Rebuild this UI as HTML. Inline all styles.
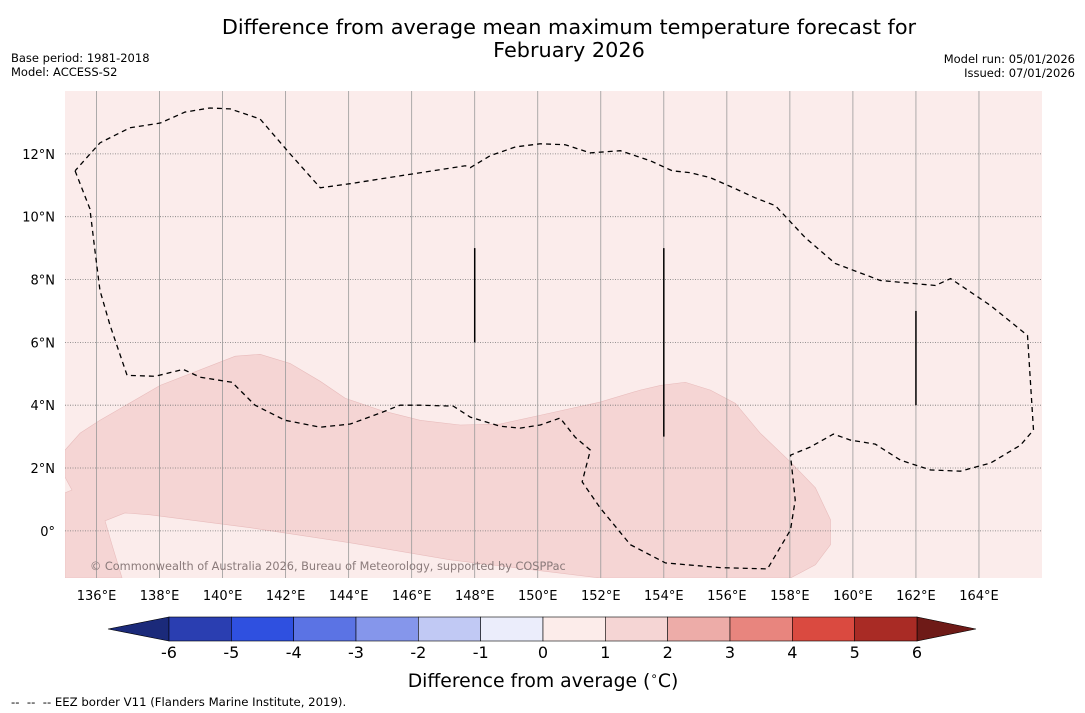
<!DOCTYPE html>
<html><head><meta charset="utf-8"><style>
body{margin:0;background:#fff;font-family:"Liberation Sans","DejaVu Sans",sans-serif;}
svg{display:block}
</style></head><body>
<svg width="1085" height="713" xmlns="http://www.w3.org/2000/svg" font-family="DejaVu Sans, Liberation Sans, sans-serif">
<text x="569" y="34" text-anchor="middle" font-size="20.8">Difference from average mean maximum temperature forecast for</text>
<text x="569" y="57" text-anchor="middle" font-size="20.8">February 2026</text>
<text x="11" y="62" font-size="11.5">Base period: 1981-2018</text>
<text x="11" y="76" font-size="11.5">Model: ACCESS-S2</text>
<text x="1075" y="63" font-size="11.5" text-anchor="end">Model run: 05/01/2026</text>
<text x="1075" y="77" font-size="11.5" text-anchor="end">Issued: 07/01/2026</text>
<g id="map"></g>
<g id="cbar"></g>
<text x="543" y="687" font-size="18.8" text-anchor="middle">Difference from average (<tspan font-size="12" dy="-7">∘</tspan><tspan dy="7">C)</tspan></text>
<text x="11" y="706" font-size="11.7" style="white-space:pre">--  --  -- EEZ border V11 (Flanders Marine Institute, 2019).</text>
</svg>
<script>
const lonTicks=[136,138,140,142,144,146,148,150,152,154,156,158,160,162,164];
const latTicks=[0,2,4,6,8,10,12];
const cbLevels=[-6,-5,-4,-3,-2,-1,0,1,2,3,4,5,6];
const cbColors=["#2a3eb1","#2f50e0","#5b73e4","#8596eb","#c1c9f4","#ebedfb","#fcecea","#f5d5d4","#edaca8","#e8857e","#da4a40","#a92b25"];
const shadedLon=[135,135.48,136.11,138.02,140.40,141.19,142.14,143.10,143.89,145.0,146.27,147.54,148.81,150.08,151.98,153.25,153.89,154.68,155.48,156.27,157.06,158.02,158.81,159.29,159.29,158.81,158.02,151.98,147.22,144.05,140.87,137.70,136.90,136.27,136.49,136.81,135,135,135.22,135];
const shadedLat=[2.57,3.11,3.52,4.63,5.56,5.62,5.33,4.76,4.22,3.84,3.52,3.37,3.40,3.68,4.10,4.48,4.63,4.73,4.48,4.06,3.11,2.19,1.37,0.35,-0.44,-1.08,-1.5,-1.5,-0.92,-0.38,0.10,0.51,0.57,0.32,-0.44,-1.5,-1.5,1.21,1.30,1.71];
const eezLon=[135.32,135.79,135.95,136.11,136.43,136.97,137.86,138.75,139.29,140.30,141.03,141.98,143.10,144.05,145.0,145.63,146.27,147.32,147.86,148.81,149.44,150.08,150.71,151.19,151.67,151.41,151.98,152.94,154.05,155.79,157.29,158.02,158.17,158.02,158.65,159.38,159.92,160.71,161.51,162.46,163.41,164.37,165.32,165.73,165.54,164.37,163.10,162.62,160.87,159.44,158.49,157.54,156.90,156.27,155.48,154.84,154.27,153.57,152.62,151.67,150.87,150.08,149.29,148.49,147.86,147.70,145.63,144.05,143.10,142.14,141.19,140.24,139.60,138.81,138.02,137.06,136.11,135.32];
const eezLat=[11.46,10.25,8.92,7.65,6.54,4.95,4.92,5.14,4.89,4.73,4.0,3.52,3.30,3.40,3.75,4.0,4.0,3.97,3.62,3.33,3.27,3.37,3.59,2.98,2.57,1.56,0.73,-0.44,-1.02,-1.17,-1.21,0.03,0.98,2.41,2.67,3.08,2.89,2.76,2.25,1.94,1.90,2.16,2.73,3.21,6.22,7.17,8.03,7.81,7.97,8.51,9.33,10.35,10.60,10.89,11.24,11.40,11.46,11.78,12.10,12.03,12.29,12.32,12.22,11.94,11.56,11.62,11.30,11.05,10.92,12.0,13.11,13.43,13.46,13.33,12.98,12.83,12.35,11.46];
const segLon=[148,154,162];
const segLat0=[6,3,4];
const segLat1=[9,9,7];

const NS="http://www.w3.org/2000/svg";
const X0=65,X1=1042,Y0=91,Y1=578,LON0=135,LON1=166,LAT0=-1.5,LAT1=14;
const xs=l=>X0+(l-LON0)/(LON1-LON0)*(X1-X0);
const ys=l=>Y1-(l-LAT0)/(LAT1-LAT0)*(Y1-Y0);
function mk(t,a,p){const e=document.createElementNS(NS,t);for(const k in a)e.setAttribute(k,a[k]);p.appendChild(e);return e;}
const map=document.getElementById('map');
const cp=mk('clipPath',{id:'mc'},map);mk('rect',{x:X0,y:Y0,width:X1-X0,height:Y1-Y0},cp);
let bg=mk('rect',{x:X0,y:Y0,width:X1-X0,height:Y1-Y0,fill:'#fbeceb'},map);


let sp=mk('polygon',{points:shadedLon.map((l,i)=>xs(l)+','+ys(shadedLat[i])).join(' '),fill:'#f5d5d4',stroke:'#e8bcbc','stroke-width':0.6,'clip-path':'url(#mc)'},map);


lonTicks.forEach(l=>{
  let g=mk('line',{x1:xs(l),x2:xs(l),y1:Y0,y2:Y1,stroke:'#999','stroke-width':0.8},map);
  
  
  let t=mk('text',{x:xs(l),y:600,'font-size':13,'text-anchor':'middle'},map);t.textContent=l+'°E';
  
  
});
latTicks.forEach(l=>{
  let g=mk('line',{x1:X0,x2:X1,y1:ys(l),y2:ys(l),stroke:'#777','stroke-width':0.8,'stroke-dasharray':'1,1.5'},map);
  
  
  let t=mk('text',{x:55,y:ys(l)+5,'font-size':13,'text-anchor':'end'},map);t.textContent=l===0?'0°':l+'°N';
  
  
});
let ez=mk('polyline',{points:eezLon.map((l,i)=>xs(l)+','+ys(eezLat[i])).join(' '),fill:'none',stroke:'#000','stroke-width':1.3,'stroke-dasharray':'5,4','clip-path':'url(#mc)'},map);


segLon.forEach((l,i)=>{
  let s=mk('line',{x1:xs(l),x2:xs(l),y1:ys(segLat0[i]),y2:ys(segLat1[i]),stroke:'#000','stroke-width':1.5},map);
  
  
});
let wm=mk('text',{x:90,y:570,'font-size':11.3,fill:'#8a7a7a'},map);wm.textContent='© Commonwealth of Australia 2026, Bureau of Meteorology, supported by COSPPac';



const cb=document.getElementById('cbar');
const C0=169,C1=917,CY=617,CH=24;
const cx=v=>C0+(v-cbLevels[0])/(cbLevels[cbLevels.length-1]-cbLevels[0])*(C1-C0);
let lt=mk('polygon',{points:`108,${CY+CH/2} ${C0},${CY} ${C0},${CY+CH}`,fill:'#1b2a7a',stroke:'#000','stroke-width':0.6},cb);


let rt=mk('polygon',{points:`976,${CY+CH/2} ${C1},${CY} ${C1},${CY+CH}`,fill:'#6e1a17',stroke:'#000','stroke-width':0.6},cb);


cbColors.forEach((c,i)=>{
  let r=mk('rect',{x:cx(cbLevels[i]),y:CY,width:cx(cbLevels[i+1])-cx(cbLevels[i]),height:CH,fill:c,stroke:'#000','stroke-width':0.6},cb);
  
  
});
cbLevels.forEach(v=>{
  let t=mk('text',{x:cx(v),y:658,'font-size':16,'text-anchor':'middle'},cb);t.textContent=v;
  
  
});
</script>
</body></html>
